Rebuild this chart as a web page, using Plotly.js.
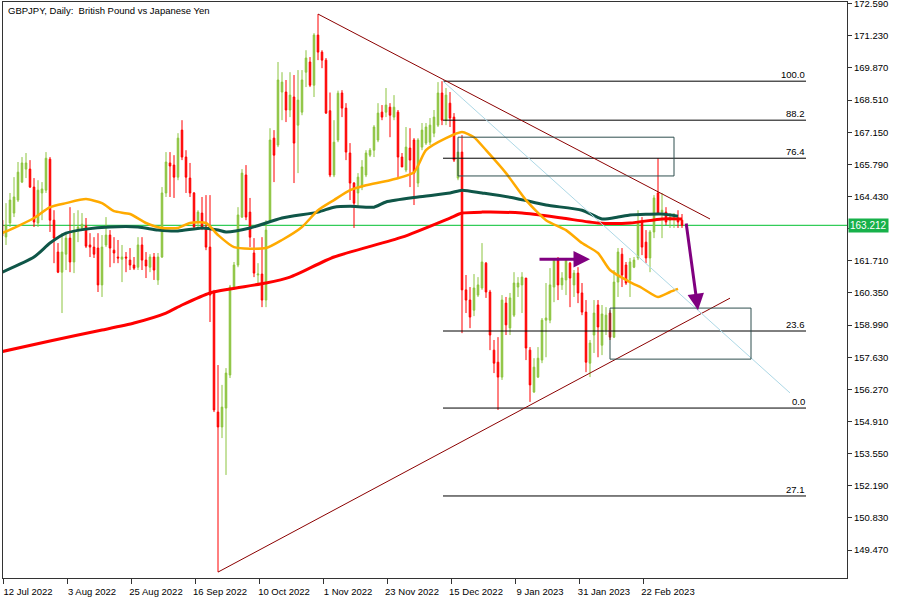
<!DOCTYPE html>
<html><head><meta charset="utf-8">
<script src="https://cdn.plot.ly/plotly-3.0.1.min.js"></script>
<style>html,body{margin:0;padding:0;background:#fff}#chart{width:900px;height:600px}</style>
</head><body><div id="chart"></div>
<script>
// ---- daily candles, bar -1 .. 169 ----
const openP = [163.43,
 162.72,163.31,163.73,164.28,165.04,165.59,165.59,164.83,163.31,164.58,
 164.70,166.01,163.43,162.08,161.23,161.99,162.67,161.66,163.01,163.10,
 163.18,162.38,162.29,162.25,160.69,162.38,162.80,162.16,161.87,161.78,
 161.87,161.74,161.53,161.44,162.38,161.74,161.44,161.87,160.90,161.87,
 164.58,165.85,165.76,165.25,167.24,166.10,165.21,164.58,163.35,163.73,
 163.14,162.29,160.35,155.31,154.68,155.48,156.88,160.56,161.53,163.56,
 165.34,163.77,162.04,161.11,161.15,160.05,163.43,166.90,166.61,168.85,
 168.85,168.09,168.64,167.45,168.00,169.69,170.12,169.14,171.26,170.54,
 170.20,168.06,165.34,166.82,168.81,168.17,166.27,165.00,164.58,164.83,
 165.34,166.18,166.39,166.82,168.00,168.00,168.21,167.79,168.00,166.10,
 165.55,166.48,166.82,165.00,166.52,166.69,166.73,167.11,167.45,168.81,
 167.66,168.38,167.79,165.21,166.31,160.48,160.05,159.62,160.26,160.56,
 161.61,160.39,157.93,157.42,156.79,159.92,158.87,159.41,160.60,160.69,
 160.98,157.93,156.16,156.79,157.51,159.20,159.20,160.60,161.74,160.69,
 160.90,161.61,160.69,161.19,160.35,159.54,157.38,158.57,159.84,158.14,
 158.78,159.50,158.48,160.81,161.99,161.53,160.90,161.44,161.83,163.35,
 162.50,161.83,162.93,164.58,163.77,163.77,163.43,163.48,163.52,163.43];
const highP = [163.77,
 164.15,164.58,165.25,165.89,166.10,166.27,165.97,165.21,165.12,165.04,
 166.31,166.10,163.85,162.46,162.88,162.93,163.98,163.73,163.85,163.73,
 163.52,162.88,162.71,162.88,162.80,163.56,163.01,162.71,162.59,162.38,
 162.08,162.25,161.87,162.71,162.71,162.08,161.99,162.04,162.04,164.83,
 166.31,166.31,166.18,167.11,167.66,166.39,165.85,164.62,163.85,164.41,
 164.49,164.49,160.48,157.30,156.46,157.17,160.69,161.66,163.98,165.59,
 165.76,164.37,162.67,161.61,162.71,163.43,167.32,167.24,170.12,169.69,
 169.36,169.69,169.57,169.78,169.78,170.62,170.33,171.34,172.15,170.62,
 170.29,168.83,167.66,168.91,168.93,168.38,166.69,165.04,165.42,165.97,
 166.39,166.48,167.45,168.38,168.30,169.02,168.38,168.72,168.09,166.27,
 167.37,167.32,166.90,166.90,167.54,167.54,167.75,168.09,169.27,169.31,
 169.02,168.85,167.96,166.31,167.03,161.11,160.60,161.15,161.02,162.46,
 161.66,160.48,158.36,158.48,160.26,160.18,160.35,161.23,161.02,161.23,
 160.98,158.06,157.59,158.06,159.29,160.77,161.40,161.83,161.87,161.23,
 161.83,161.66,161.32,161.44,160.77,160.05,158.36,160.05,160.05,159.84,
 159.75,159.62,161.32,162.25,162.25,161.66,161.83,161.87,163.85,163.56,
 163.01,163.01,164.49,166.05,164.58,163.98,163.73,163.73,163.85,163.69];
const lowP = [162.59,
 162.38,163.14,163.56,164.20,165.00,165.21,164.79,163.14,163.14,163.43,
 164.58,162.93,161.61,161.19,159.50,161.32,161.23,161.19,162.50,163.01,
 162.25,161.87,161.83,160.39,160.18,162.29,161.44,161.61,161.61,160.81,
 161.23,161.32,161.32,161.32,161.32,160.98,161.23,160.90,160.69,161.83,
 164.41,164.41,164.37,165.12,165.97,164.58,164.41,163.10,163.14,163.01,
 162.16,159.12,155.31,148.54,154.21,152.65,156.75,160.48,161.44,163.52,
 163.43,162.29,161.02,160.77,159.75,159.75,163.31,165.04,166.52,167.66,
 167.58,167.79,165.00,165.42,167.87,169.06,169.06,168.64,170.20,169.86,
 167.92,165.25,165.25,166.73,167.79,165.97,164.28,163.10,163.98,164.70,
 165.25,166.10,166.10,166.73,167.66,167.79,166.94,167.66,165.25,165.68,
 165.46,164.83,164.07,164.83,166.39,166.61,166.61,166.94,167.37,167.45,
 167.45,167.37,165.89,165.12,158.65,159.50,158.86,159.37,160.18,160.48,
 160.14,157.93,156.96,155.40,156.67,158.57,158.57,159.33,160.18,159.50,
 157.51,155.74,156.12,156.75,157.38,157.63,159.07,159.96,160.05,160.48,
 160.26,159.75,160.18,159.92,159.41,157.00,156.79,157.81,157.63,157.72,
 158.57,158.36,158.44,160.18,160.60,160.69,160.18,161.40,161.74,161.95,
 161.61,161.23,162.67,163.65,162.67,163.22,163.10,163.10,163.10,163.10];
const closeP = [162.76,
 163.22,164.28,164.41,165.46,165.85,165.85,164.83,163.35,164.70,164.75,
 166.05,163.43,162.67,161.23,162.08,162.67,161.66,162.93,163.14,163.26,
 162.33,162.29,161.99,160.69,162.29,162.80,162.25,162.04,161.83,161.87,
 161.83,161.53,161.40,162.38,161.74,161.49,161.87,161.32,161.87,164.58,
 165.89,165.72,165.25,166.90,166.10,165.25,164.58,163.14,163.77,163.14,
 162.29,160.26,155.40,154.68,155.52,156.96,160.60,161.53,163.65,165.42,
 163.56,162.71,161.19,161.15,160.05,163.01,166.82,166.18,169.36,169.27,
 168.09,168.72,166.69,168.51,169.36,170.29,169.14,171.26,170.54,170.20,
 167.96,165.34,166.73,168.80,168.17,166.31,165.00,164.15,165.25,165.68,
 166.27,166.39,167.37,167.96,167.79,168.30,167.87,168.21,166.10,165.68,
 166.52,165.97,165.42,166.82,167.24,167.37,167.45,167.79,168.81,167.66,
 168.72,167.75,165.97,166.31,160.48,160.05,159.33,160.56,160.69,161.66,
 160.39,158.57,157.38,156.79,160.05,159.00,160.14,160.77,160.77,161.02,
 158.02,156.46,157.21,157.59,159.20,159.29,160.69,161.74,160.69,160.98,
 161.74,160.98,161.19,160.35,159.54,157.42,158.23,159.50,158.91,159.46,
 159.41,158.48,160.81,162.08,161.11,160.77,161.66,161.74,163.35,162.29,
 161.83,162.93,164.37,163.73,163.85,163.35,163.56,163.52,163.35,163.21];

// ---- moving averages (bar index, price) ----
const ma200Bar = [-1.5, 11, 24, 32, 40, 44, 51, 56, 65, 71, 82, 99, 111, 114, 119, 129, 139, 148, 156, 164, 169];
const ma200Val = [157.85,158.32,158.78,159.08,159.50,159.84,160.35,160.52,160.77,161.02,161.87,162.71,163.52,163.73,163.77,163.73,163.52,163.31,163.31,163.48,163.48];
const ma100Bar = [-1.5, 7, 11, 15, 20, 26, 33, 38, 43, 49, 53, 55, 61, 69, 78, 82, 86, 92, 95, 103, 111, 114, 119, 127, 135, 144, 149, 153, 156, 164, 168];
const ma100Val = [161.19,161.87,162.46,162.88,163.05,163.14,163.14,163.01,162.97,163.10,163.01,162.93,163.10,163.52,163.77,163.98,164.02,163.98,164.20,164.41,164.58,164.70,164.58,164.37,164.07,163.85,163.48,163.56,163.65,163.69,163.60];
const ma50Bar = [-1, 3, 7, 11, 15, 20, 24, 27, 31, 35, 39, 43, 46, 50, 53, 57, 65, 69, 74, 78, 82, 86, 90, 96, 102, 105, 110, 114, 117, 120, 125, 130, 135, 140, 144, 148, 151, 156, 159, 163, 166, 168];
const ma50Val = [162.88,163.18,163.52,163.98,164.15,164.32,164.15,163.81,163.69,163.31,163.10,163.10,163.31,163.31,162.80,162.29,162.25,162.59,163.14,163.85,164.28,164.70,164.91,165.12,165.46,166.39,166.90,167.16,166.94,166.39,165.42,164.28,163.43,163.01,162.46,162.04,161.32,160.81,160.56,160.18,160.39,160.52];

// ---- axis labels ----
const dateLabels = ['12 Jul 2022','3 Aug 2022','25 Aug 2022','16 Sep 2022','10 Oct 2022','1 Nov 2022','23 Nov 2022','15 Dec 2022','9 Jan 2023','31 Jan 2023','22 Feb 2023'];
const dateBars = [0,16,32,48,64,80,96,112,128,144,160];
const priceTicks = [149.47,150.83,152.19,153.55,154.91,156.27,157.63,158.99,160.35,161.71,163.07,164.43,165.79,167.15,168.51,169.87,171.23,172.59];
const lastPrice = 163.212;

// ---- chart objects (bar index, price) ----
const fibLabels = ['100.0','88.2','76.4','23.6','0.0','27.1'];
const fibPrices = [169.31,167.66,166.05,158.74,155.48,151.76];
const fibFromBar = 109.25, fibToBar = 200;
const upperTrend = {bars:[78,176], prices:[172.15,163.48]};
const lowerTrend = {bars:[53,181], prices:[148.54,160.13]};
const blueLine = {bars:[109.25,196], prices:[169.31,156.12]};
const zoneTop = {bars:[113,167], prices:[166.94,165.30]};
const zoneBottom = {bars:[151,186.25], prices:[159.71,157.55]};
const arrowRight = {bars:[133,146], prices:[161.78,161.78]};
const arrowDown = {bars:[170,173], prices:[163.35,159.62]};

const bars = openP.map((_, k) => k - 1);
const traces = [
  {type:'candlestick', x:bars, open:openP, high:highP, low:lowP, close:closeP,
   increasing:{line:{color:'#8CC43F', width:1}, fillcolor:'#8CC43F'},
   decreasing:{line:{color:'#FF0000', width:1}, fillcolor:'#FF0000'},
   whiskerwidth:0, hoverinfo:'skip'},
  {type:'scatter', mode:'lines', x:ma200Bar, y:ma200Val, line:{color:'#FF0000', width:3, shape:'spline', smoothing:0.6}, hoverinfo:'skip'},
  {type:'scatter', mode:'lines', x:ma100Bar, y:ma100Val, line:{color:'#0F5648', width:3, shape:'spline', smoothing:0.6}, hoverinfo:'skip'},
  {type:'scatter', mode:'lines', x:ma50Bar, y:ma50Val, line:{color:'#FFAA00', width:2.5, shape:'spline', smoothing:0.6}, hoverinfo:'skip'}
];

const seg = (o, color, width) => ({type:'line', xref:'x', yref:'y', x0:o.bars[0], x1:o.bars[1], y0:o.prices[0], y1:o.prices[1], line:{color, width}});
const box = (o) => ({type:'rect', xref:'x', yref:'y', x0:o.bars[0], x1:o.bars[1], y0:o.prices[0], y1:o.prices[1], line:{color:'#2F4F4F', width:1}, fillcolor:'rgba(0,0,0,0)'});
const shapes = [
  {type:'line', xref:'paper', yref:'y', x0:0, x1:1, y0:lastPrice, y1:lastPrice, line:{color:'#00C030', width:1}, layer:'below'},
  ...fibPrices.map(p => ({type:'line', xref:'x', yref:'y', x0:fibFromBar, x1:fibToBar, y0:p, y1:p, line:{color:'#000', width:1}})),
  seg(upperTrend, '#8B0000', 1),
  seg(lowerTrend, '#8B0000', 1),
  seg(blueLine, '#ADD8E6', 1),
  box(zoneTop), box(zoneBottom)
];

const font = 'Liberation Sans, Arial, sans-serif';
const annotations = [
  ...fibPrices.map((p, k) => ({xref:'x', yref:'y', x:fibToBar, y:p, text:fibLabels[k], showarrow:false, xanchor:'right', yanchor:'bottom', borderpad:0, font:{family:font, size:9.5, color:'#000'}})),
  {xref:'paper', yref:'y', x:1, y:lastPrice, text:lastPrice.toFixed(3), showarrow:false, xanchor:'left', yanchor:'middle', xshift:1, bgcolor:'#17B14A', borderpad:1, font:{family:font, size:10, color:'#fff'}},
  {xref:'x', yref:'y', axref:'x', ayref:'y', x:arrowRight.bars[1], y:arrowRight.prices[1], ax:arrowRight.bars[0], ay:arrowRight.prices[0], text:'', showarrow:true, arrowhead:2, arrowsize:1.1, arrowwidth:3, arrowcolor:'#800080'},
  {xref:'x', yref:'y', axref:'x', ayref:'y', x:arrowDown.bars[1], y:arrowDown.prices[1], ax:arrowDown.bars[0], ay:arrowDown.prices[0], text:'', showarrow:true, arrowhead:2, arrowsize:1.1, arrowwidth:3, arrowcolor:'#800080'}
];

const layout = {
  width:900, height:600,
  margin:{l:3, r:53, t:2, b:22, pad:0},
  paper_bgcolor:'#fff', plot_bgcolor:'#fff',
  showlegend:false,
  font:{family:font, size:9.5, color:'#000'},
  title:{text:'GBPJPY, Daily:\u00a0 British Pound vs Japanese Yen', xref:'container', yref:'container', x:8/900, xanchor:'left', y:1-11/600, yanchor:'middle', font:{family:font, size:9.5, color:'#000'}},
  boxgap:0.45,
  xaxis:{range:[-0.75, 210.25], showgrid:false, zeroline:false, showline:true, mirror:true, linecolor:'#333', linewidth:1,
         ticks:'outside', ticklen:5, tickcolor:'#333', tickvals:dateBars.map(b => b - 0.75), ticktext:dateLabels, tickangle:0,
         ticklabelshift:25, ticklabelstandoff:0, rangeslider:{visible:false}, fixedrange:true, tickfont:{family:font, size:9.5, color:'#000'}},
  yaxis:{range:[148.29, 172.66], side:'right', showgrid:false, zeroline:false, showline:true, mirror:true, linecolor:'#333', linewidth:1,
         ticks:'outside', ticklen:4, tickcolor:'#333', tickvals:priceTicks, tickformat:'.3f', ticklabeloverflow:'allow',
         fixedrange:true, tickfont:{family:font, size:9.5, color:'#000'}},
  shapes, annotations
};
Plotly.newPlot('chart', traces, layout, {staticPlot:true, displayModeBar:false});
</script>
</body></html>
